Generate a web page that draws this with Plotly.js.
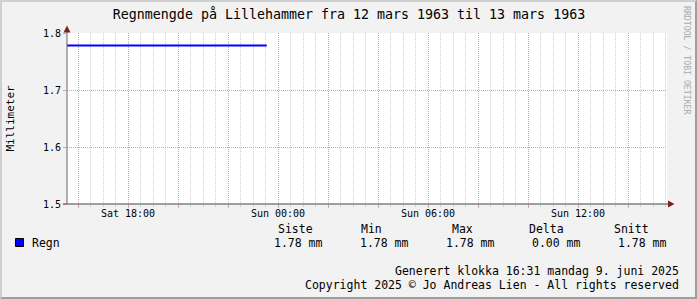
<!DOCTYPE html>
<html>
<head>
<meta charset="utf-8">
<script src="https://cdn.plot.ly/plotly-3.0.1.min.js"></script>
<style>
  html, body { margin: 0; padding: 0; background: #f2f2f2; }
  #wrap { position: relative; width: 697px; height: 299px; overflow: hidden; }
  #chart { position: absolute; left: 0; top: 0; width: 697px; height: 299px; }
  #frame { position: absolute; left: 0; top: 0; width: 697px; height: 299px; box-sizing: border-box;
           border-left: 2px solid #cfcfcf; border-top: 2px solid #cfcfcf;
           border-right: 2px solid #9e9e9e; border-bottom: 2px solid #9e9e9e; pointer-events: none; }
</style>
</head>
<body>
<div id="wrap"><div id="chart"></div><div id="frame"></div></div>
<script>
// ---- data (hours counted from Sat 00:00) ----
const titleText = "Regnmengde på Lillehammer fra 12 mars 1963 til 13 mars 1963";
const seriesName = "Regn";
const unit = "mm";
const yTitle = "Millimeter";
const timeHours = [15.55, 16.55, 17.55, 18.55, 19.55, 20.55, 21.55, 22.55, 23.55];
const rainValues = [1.778, 1.778, 1.778, 1.778, 1.778, 1.778, 1.778, 1.778, 1.778];
const xRange = [15.56, 39.56];
const yRange = [1.5, 1.8];
const yTicks = [1.5, 1.6, 1.7, 1.8];
const yTickText = ["1.5", "1.6", "1.7", "1.8"];
const xTicks = [16, 18, 20, 22, 24, 26, 28, 30, 32, 34, 36, 38];
const xTickText = ["", "Sat 18:00", "", "", "Sun 00:00", "", "", "Sun 06:00", "", "", "Sun 12:00", ""];
const xMinorTicks = [16.5, 17, 17.5, 18.5, 19, 19.5, 20.5, 21, 21.5, 22.5, 23, 23.5, 24.5, 25, 25.5,
  26.5, 27, 27.5, 28.5, 29, 29.5, 30.5, 31, 31.5, 32.5, 33, 33.5, 34.5, 35, 35.5, 36.5, 37, 37.5, 38.5, 39, 39.5];
const statHeaders = ["Siste", "Min", "Max", "Delta", "Snitt"];
const footer1 = "Generert klokka 16:31 mandag 9. juni 2025";
const footer2 = "Copyright 2025 © Jo Andreas Lien - All rights reserved";
const watermark = "RRDTOOL / TOBI OETIKER";

// ---- stats computed from the series ----
const vMin = Math.min(...rainValues), vMax = Math.max(...rainValues);
const vLast = rainValues[rainValues.length - 1];
const vAvg = rainValues.reduce((a, b) => a + b, 0) / rainValues.length;
const statValues = [vLast, vMin, vMax, vMax - vMin, vAvg];

// ---- pixel helpers (plot area 67..667 x 33..204) ----
const X0 = 67, X1 = 667, Y0 = 204, Y1 = 33;
const px = x => (x - X0) / (X1 - X0);
const py = y => (Y0 - y) / (Y0 - Y1);

const MONO = "DejaVu Sans Mono, monospace";
const majorGrid = "#ec9c9c";
const minorGrid = "#cecece";
const arrowCol = "#801f1f";
const axisCol = "#444444";

const trace = {
  x: timeHours, y: rainValues, type: "scatter", mode: "lines",
  line: { color: "#0000ff", width: 2 }, name: seriesName, hoverinfo: "skip"
};

const headerLeft = [276, 359, 450, 527, 612];
const valueRight = [325, 411, 497, 583, 669];

const annotations = [];
statHeaders.forEach((h, i) => annotations.push({
  text: h, xref: "paper", yref: "paper", x: px(headerLeft[i]), y: py(229),
  xanchor: "left", yanchor: "middle", showarrow: false,
  font: { family: MONO, size: 11.5, color: "#000" }
}));
statValues.forEach((v, i) => annotations.push({
  text: v.toFixed(2) + " " + unit, xref: "paper", yref: "paper", x: px(valueRight[i]), y: py(243),
  xanchor: "right", yanchor: "middle", showarrow: false,
  font: { family: MONO, size: 11.5, color: "#000" }
}));
annotations.push({ text: seriesName, xref: "paper", yref: "paper", x: px(30), y: py(243),
  xanchor: "left", yanchor: "middle", showarrow: false, font: { family: MONO, size: 11.5, color: "#000" } });
annotations.push({ text: footer1, xref: "paper", yref: "paper", x: px(681), y: py(271),
  xanchor: "right", yanchor: "middle", showarrow: false, font: { family: MONO, size: 11.5, color: "#000" } });
annotations.push({ text: footer2, xref: "paper", yref: "paper", x: px(681), y: py(285),
  xanchor: "right", yanchor: "middle", showarrow: false, font: { family: MONO, size: 11.5, color: "#000" } });
annotations.push({ text: yTitle, xref: "paper", yref: "paper", x: px(10), y: py(118.5),
  xanchor: "center", yanchor: "middle", textangle: -90, showarrow: false, font: { family: MONO, size: 11, color: "#000" } });
annotations.push({ text: watermark, xref: "paper", yref: "paper", x: px(687), y: py(60),
  xanchor: "center", yanchor: "middle", textangle: 90, showarrow: false, font: { family: MONO, size: 8.2, color: "#aaaaaa" } });

const shapes = [
  // y axis extension + arrow
  { type: "line", xref: "paper", yref: "paper", x0: px(67), x1: px(67), y0: py(204), y1: py(31), line: { color: "#666666", width: 1 } },
  { type: "path", xref: "paper", yref: "paper",
    path: `M ${px(63.5)} ${py(32.5)} L ${px(70.5)} ${py(32.5)} L ${px(67)} ${py(25.5)} Z`,
    fillcolor: arrowCol, line: { width: 0 } },
  // x axis extension + arrow
  { type: "line", xref: "paper", yref: "paper", x0: px(63), x1: px(669), y0: py(204), y1: py(204), line: { color: axisCol, width: 1 } },
  { type: "path", xref: "paper", yref: "paper",
    path: `M ${px(668)} ${py(200.5)} L ${px(668)} ${py(207.5)} L ${px(674.5)} ${py(204)} Z`,
    fillcolor: arrowCol, line: { width: 0 } },
  // legend swatch
  { type: "rect", xref: "paper", yref: "paper", x0: px(15.5), x1: px(23.5), y0: py(238.5), y1: py(246.5),
    fillcolor: "#0000ff", line: { color: "#000", width: 1 } }
];

const layout = {
  width: 697, height: 299,
  margin: { l: 67, r: 30, t: 33, b: 95, pad: 0 },
  paper_bgcolor: "#f2f2f2", plot_bgcolor: "#ffffff",
  showlegend: false,
  font: { family: MONO, size: 10, color: "#000" },
  title: { text: titleText, font: { family: MONO, size: 13.3, color: "#000" },
           x: 349 / 697, xref: "container", xanchor: "center", y: 1 - 14 / 299, yref: "container", yanchor: "middle" },
  xaxis: {
    range: xRange, tickmode: "array", tickvals: xTicks, ticktext: xTickText,
    showgrid: true, gridcolor: majorGrid, griddash: "1px,1px", gridwidth: 1,
    ticks: "outside", ticklen: 3, tickcolor: majorGrid, tickfont: { family: MONO, size: 10 },
    ticklabelstandoff: -3,
    showline: false, zeroline: false, fixedrange: true,
    minor: { tickmode: "array", tickvals: xMinorTicks, showgrid: true, gridcolor: minorGrid, griddash: "1px,1px",
             ticks: "outside", ticklen: 2, tickcolor: minorGrid }
  },
  yaxis: {
    range: yRange, tickmode: "array", tickvals: yTicks, ticktext: yTickText,
    showgrid: true, gridcolor: majorGrid, griddash: "1px,1px", gridwidth: 1,
    ticks: "outside", ticklen: 3, tickcolor: majorGrid, tickfont: { family: MONO, size: 10 },
    showline: false, zeroline: false, fixedrange: true
  },
  shapes: shapes,
  annotations: annotations
};

Plotly.newPlot("chart", [trace], layout, { staticPlot: true, displayModeBar: false });
</script>
</body>
</html>
